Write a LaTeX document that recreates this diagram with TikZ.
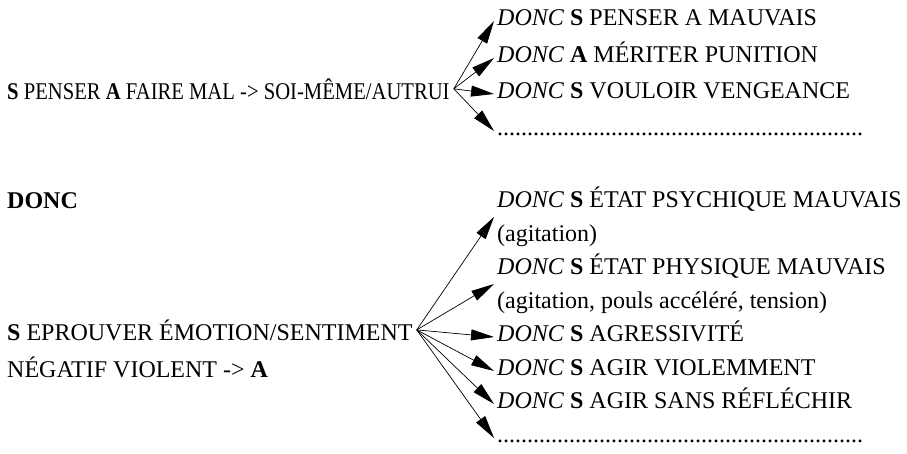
\documentclass[tikz,border=0pt]{standalone}
\usepackage{fontspec}
\setmainfont{Liberation Serif}
\newfontfamily\narrowfont[FakeStretch=0.86]{Liberation Serif}
\usetikzlibrary{arrows.meta}
\tikzset{
  lab/.style={inner sep=0pt, font=\fontsize{24}{33.5}\selectfont},
  src/.style={lab, inner xsep=4pt},
  item/.style={lab, inner xsep=3pt, text height=10pt, text depth=2pt},
  pair/.style={lab, inner xsep=3pt, align=left},
  arr/.style={-{Triangle[length=23pt,width=11pt]}, line width=0.7pt},
}
\newcommand{\dn}{\textit{DONC}}
\newcommand{\dotrow}{.............................................................}

\begin{document}
\begin{tikzpicture}[x=1pt,y=-1pt]
  \useasboundingbox (0,0) rectangle (907,453);
  % penser a faire mal
  \node[src, anchor=base west, font=\fontsize{24}{33.5}\narrowfont] (src1) at (3,99) {\textbf{S} PENSER \textbf{A} FAIRE MAL -> SOI-MÊME/AUTRUI};
  \foreach \nm/\y/\tx in {a1/25/{\dn\ \textbf{S} PENSER A MAUVAIS}, a2/62/{\dn\ \textbf{A} MÉRITER PUNITION}, a3/98/{\dn\ \textbf{S} VOULOIR VENGEANCE}, a4/135/{\dotrow}}
  {
    \node[item, anchor=base west] (\nm) at (494,\y) {\tx};
    \draw[arr] (src1.east) -- (\nm.west);
  }
  % emotion negative
  \node[lab, anchor=base west] (donc) at (7,208) {\textbf{DONC}};
  \node[src, anchor=base west] (src2) at (3,340) {\textbf{S} EPROUVER ÉMOTION/SENTIMENT};
  \node[lab, anchor=base west] (src2b) at (7,377) {NÉGATIF VIOLENT -> \textbf{A}};
  \foreach \nm/\y/\tx in {b1/217/{\dn\ \textbf{S} ÉTAT PSYCHIQUE MAUVAIS\\(agitation)}, b2/284/{\dn\ \textbf{S} ÉTAT PHYSIQUE MAUVAIS\\(agitation, pouls accéléré, tension)}}
  {
    \node[pair, anchor=west] (\nm) at (494,\y) {\tx};
    \draw[arr] (src2.east) -- (\nm.west);
  }
  \foreach \nm/\y/\tx in {b3/341/{\dn\ \textbf{S} AGRESSIVITÉ}, b4/375/{\dn\ \textbf{S} AGIR VIOLEMMENT}, b5/408/{\dn\ \textbf{S} AGIR SANS RÉFLÉCHIR}, b6/442/{\dotrow}}
  {
    \node[item, anchor=base west] (\nm) at (494,\y) {\tx};
    \draw[arr] (src2.east) -- (\nm.west);
  }
\end{tikzpicture}
\end{document}
